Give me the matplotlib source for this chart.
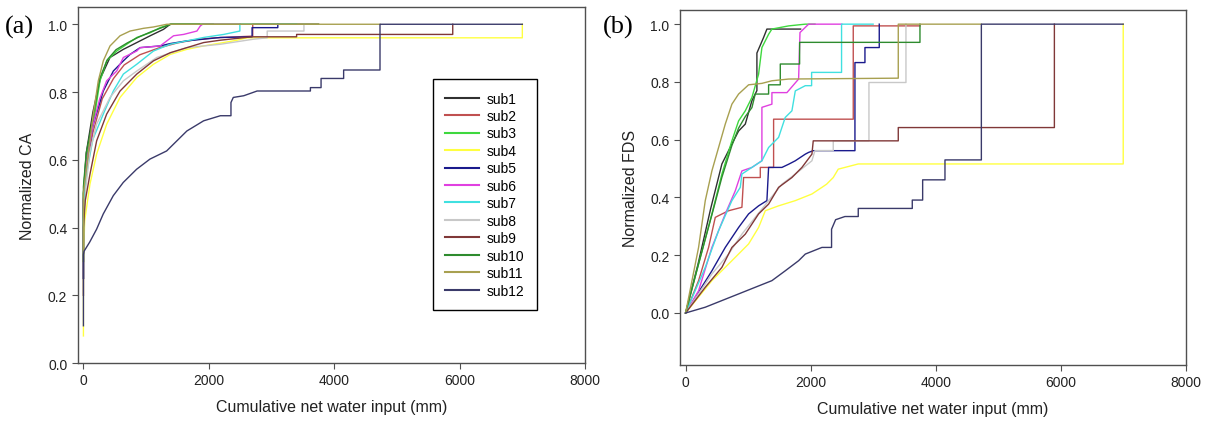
import matplotlib
matplotlib.use("Agg")
import matplotlib.pyplot as plt

plt.rcParams['font.family'] = ['Liberation Sans', 'DejaVu Sans']

names = ['sub1', 'sub2', 'sub3', 'sub4', 'sub5', 'sub6',
         'sub7', 'sub8', 'sub9', 'sub10', 'sub11', 'sub12']
colors = ['#303030', '#c05050', '#3ed83e', '#ffff40', '#1a1a8c', '#e040e0',
          '#40e0e0', '#c8c8c8', '#803838', '#2e8b2e', '#a8a050', '#3a3a6a']

# (a) Normalized CA vs cumulative net water input (mm)
ca_sub1_x = [0, 0, 45, 150, 270, 424, 637, 851, 1064, 1277, 1384, 1850]
ca_sub1_y = [0.25, 0.50, 0.62, 0.74, 0.84, 0.902, 0.926, 0.946, 0.966, 0.985, 1.0, 1.0]
ca_sub2_x = [0, 0, 40, 150, 300, 480, 650, 900, 1200, 1500, 1800, 2100, 2700, 2700, 3750]
ca_sub2_y = [0.25, 0.45, 0.56, 0.68, 0.78, 0.84, 0.88, 0.91, 0.93, 0.945, 0.955, 0.96, 0.965, 1.0, 1.0]
ca_sub3_x = [0, 0, 40, 157, 264, 371, 531, 691, 851, 1064, 1224, 1384, 2070]
ca_sub3_y = [0.30, 0.50, 0.60, 0.705, 0.833, 0.892, 0.921, 0.941, 0.961, 0.975, 0.99, 1.0, 1.0]
ca_sub4_x = [0, 0, 20, 104, 211, 371, 584, 851, 1117, 1384, 1650, 1917, 2237, 2450, 2610, 7000, 7000]
ca_sub4_y = [0.08, 0.30, 0.42, 0.528, 0.617, 0.705, 0.784, 0.843, 0.882, 0.911, 0.926, 0.936,
             0.946, 0.953, 0.96, 0.96, 1.0]
ca_sub5_x = [0, 0, 40, 150, 317, 477, 637, 744, 904, 1224, 1384, 1650, 1917, 2184, 2690, 2690,
             3100, 3100]
ca_sub5_y = [0.25, 0.48, 0.58, 0.70, 0.803, 0.862, 0.892, 0.911, 0.931, 0.936, 0.943, 0.951,
             0.956, 0.961, 0.963, 0.99, 0.99, 1.0]
ca_sub6_x = [0, 0, 40, 150, 260, 370, 531, 637, 851, 904, 1224, 1437, 1597, 1810, 1864, 1900, 2500]
ca_sub6_y = [0.25, 0.48, 0.58, 0.70, 0.78, 0.833, 0.862, 0.902, 0.921, 0.931, 0.936, 0.966,
             0.97, 0.98, 0.995, 1.0, 1.0]
ca_sub7_x = [0, 0, 40, 150, 317, 477, 637, 851, 1117, 1384, 1650, 1917, 2237, 2495, 2495, 3400]
ca_sub7_y = [0.25, 0.45, 0.55, 0.66, 0.735, 0.803, 0.853, 0.882, 0.921, 0.941, 0.951, 0.961,
             0.97, 0.98, 1.0, 1.0]
ca_sub8_x = [0, 0, 40, 100, 210, 424, 637, 851, 1170, 1650, 2184, 2717, 2931, 2931, 3517, 3517, 3530]
ca_sub8_y = [0.25, 0.42, 0.52, 0.62, 0.705, 0.784, 0.833, 0.862, 0.902, 0.931, 0.941, 0.956,
             0.96, 0.98, 0.98, 1.0, 1.0]
ca_sub9_x = [0, 0, 30, 104, 211, 371, 584, 851, 1117, 1384, 1650, 1917, 2184, 2690, 3400, 3400,
             5890, 5890]
ca_sub9_y = [0.20, 0.40, 0.48, 0.557, 0.656, 0.735, 0.803, 0.853, 0.892, 0.916, 0.931, 0.946,
             0.953, 0.963, 0.963, 0.97, 0.97, 1.0]
ca_sub10_x = [0, 0, 45, 150, 260, 380, 520, 700, 880, 1080, 1250, 1400, 3750]
ca_sub10_y = [0.30, 0.52, 0.62, 0.72, 0.84, 0.895, 0.925, 0.945, 0.962, 0.978, 0.99, 1.0, 1.0]
ca_sub11_x = [0, 0, 77, 157, 237, 317, 424, 584, 744, 957, 1117, 1330, 4730]
ca_sub11_y = [0.30, 0.50, 0.617, 0.735, 0.833, 0.892, 0.936, 0.966, 0.98, 0.988, 0.992, 1.0, 1.0]
ca_sub12_x = [0, 0, 0, 10, 100, 210, 316, 476, 635, 848, 1061, 1327, 1650, 1917, 2184, 2353, 2353,
              2390, 2557, 2770, 3620, 3620, 3790, 3790, 4150, 4150, 4730, 4730, 7000]
ca_sub12_y = [0.11, 0.18, 0.32, 0.33, 0.357, 0.395, 0.44, 0.494, 0.533, 0.572, 0.602, 0.626,
              0.685, 0.715, 0.73, 0.73, 0.769, 0.784, 0.789, 0.803, 0.803, 0.813, 0.813, 0.84,
              0.84, 0.865, 0.865, 1.0, 1.0]

# (b) Normalized FDS vs cumulative net water input (mm)
fds_sub1_x = [0, 200, 400, 581, 741, 848, 955, 1061, 1141, 1141, 1248, 1301, 1840]
fds_sub1_y = [0, 0.17, 0.36, 0.516, 0.585, 0.63, 0.654, 0.735, 0.77, 0.90, 0.954, 0.983, 0.983]
fds_sub2_x = [0, 208, 368, 475, 528, 688, 901, 928, 1195, 1195, 1408, 1408, 2682, 2682, 3749]
fds_sub2_y = [0, 0.112, 0.227, 0.331, 0.337, 0.354, 0.366, 0.469, 0.469, 0.504, 0.504, 0.671,
              0.671, 0.994, 0.994]
fds_sub3_x = [0, 208, 421, 581, 741, 848, 955, 1061, 1168, 1221, 1328, 1381, 1648, 1915, 2070]
fds_sub3_y = [0, 0.17, 0.343, 0.481, 0.596, 0.665, 0.70, 0.746, 0.827, 0.919, 0.965, 0.983,
              0.994, 1.0, 1.0]
fds_sub4_x = [0, 421, 741, 1008, 1168, 1275, 1488, 1755, 2021, 2181, 2256, 2362, 2442, 2762, 7000, 7000]
fds_sub4_y = [0, 0.112, 0.181, 0.239, 0.296, 0.354, 0.371, 0.389, 0.412, 0.435, 0.446, 0.469,
              0.498, 0.516, 0.516, 1.0]
fds_sub5_x = [0, 421, 635, 848, 1008, 1168, 1301, 1328, 1541, 1648, 1755, 1915, 1968, 2042, 2709,
              2709, 2869, 2869, 3098, 3098]
fds_sub5_y = [0, 0.146, 0.227, 0.296, 0.343, 0.371, 0.389, 0.504, 0.504, 0.515, 0.527, 0.55,
              0.556, 0.562, 0.562, 0.867, 0.867, 0.919, 0.919, 1.0]
fds_sub6_x = [0, 208, 421, 635, 795, 901, 1061, 1221, 1221, 1381, 1381, 1621, 1808, 1830, 1968, 2500]
fds_sub6_y = [0, 0.077, 0.227, 0.343, 0.423, 0.492, 0.504, 0.527, 0.712, 0.723, 0.763, 0.763,
              0.81, 0.971, 1.0, 1.0]
fds_sub7_x = [0, 315, 528, 741, 875, 901, 1061, 1221, 1328, 1488, 1594, 1701, 1755, 1915, 2016,
              2016, 2495, 2495, 3000]
fds_sub7_y = [0, 0.158, 0.285, 0.389, 0.435, 0.481, 0.504, 0.527, 0.573, 0.608, 0.677, 0.70,
              0.769, 0.787, 0.787, 0.833, 0.833, 1.0, 1.0]
fds_sub8_x = [0, 421, 688, 901, 1114, 1328, 1541, 1755, 2021, 2069, 2362, 2362, 2933, 2933, 3525, 3525]
fds_sub8_y = [0, 0.135, 0.204, 0.273, 0.331, 0.389, 0.446, 0.481, 0.527, 0.562, 0.562, 0.596,
              0.596, 0.798, 0.798, 1.0]
fds_sub9_x = [0, 315, 581, 741, 955, 1168, 1328, 1488, 1701, 1861, 2021, 2042, 3402, 3402, 5899, 5899]
fds_sub9_y = [0, 0.089, 0.158, 0.227, 0.273, 0.343, 0.377, 0.435, 0.469, 0.504, 0.55, 0.596,
              0.596, 0.642, 0.642, 1.0]
fds_sub10_x = [0, 208, 421, 581, 741, 848, 955, 1061, 1114, 1328, 1328, 1515, 1515, 1824, 1824,
               3749, 3749]
fds_sub10_y = [0, 0.17, 0.34, 0.47, 0.58, 0.64, 0.68, 0.711, 0.758, 0.758, 0.79, 0.79, 0.862,
               0.862, 0.937, 0.937, 1.0]
fds_sub11_x = [0, 208, 315, 421, 528, 635, 741, 848, 1008, 1221, 1381, 1648, 3402, 3402, 4730]
fds_sub11_y = [0, 0.227, 0.389, 0.492, 0.573, 0.654, 0.723, 0.758, 0.79, 0.795, 0.804, 0.81,
               0.813, 1.0, 1.0]
fds_sub12_x = [0, 315, 581, 848, 1114, 1381, 1594, 1808, 1915, 2181, 2335, 2335, 2400, 2549, 2762,
               2762, 3626, 3626, 3792, 3792, 4149, 4149, 4731, 4731, 7000]
fds_sub12_y = [0, 0.02, 0.043, 0.066, 0.089, 0.112, 0.146, 0.181, 0.204, 0.227, 0.227, 0.29,
               0.323, 0.334, 0.334, 0.362, 0.362, 0.391, 0.391, 0.461, 0.461, 0.53, 0.53, 1.0, 1.0]

ca_x = [ca_sub1_x, ca_sub2_x, ca_sub3_x, ca_sub4_x, ca_sub5_x, ca_sub6_x,
        ca_sub7_x, ca_sub8_x, ca_sub9_x, ca_sub10_x, ca_sub11_x, ca_sub12_x]
ca_y = [ca_sub1_y, ca_sub2_y, ca_sub3_y, ca_sub4_y, ca_sub5_y, ca_sub6_y,
        ca_sub7_y, ca_sub8_y, ca_sub9_y, ca_sub10_y, ca_sub11_y, ca_sub12_y]
fds_x = [fds_sub1_x, fds_sub2_x, fds_sub3_x, fds_sub4_x, fds_sub5_x, fds_sub6_x,
         fds_sub7_x, fds_sub8_x, fds_sub9_x, fds_sub10_x, fds_sub11_x, fds_sub12_x]
fds_y = [fds_sub1_y, fds_sub2_y, fds_sub3_y, fds_sub4_y, fds_sub5_y, fds_sub6_y,
         fds_sub7_y, fds_sub8_y, fds_sub9_y, fds_sub10_y, fds_sub11_y, fds_sub12_y]

xticks = [0, 2000, 4000, 6000, 8000]
yticks = [0.0, 0.2, 0.4, 0.6, 0.8, 1.0]


def style(ax, ylabel):
    for s in ['top', 'right', 'left', 'bottom']:
        ax.spines[s].set_color('#505050')
        ax.spines[s].set_linewidth(1.0)
    ax.tick_params(direction='out', length=4, width=0.8, colors='#505050',
                   labelcolor='#222222', labelsize=10, top=False, right=False)
    ax.set_xticks(xticks)
    ax.set_xticklabels([str(t) for t in xticks])
    ax.set_yticks(yticks)
    ax.set_yticklabels(['%.1f' % t for t in yticks])
    ax.set_xlim(-90, 8000)
    ax.set_xlabel('Cumulative net water input (mm)', fontsize=11.5, color='#222222', labelpad=8)
    ax.set_ylabel(ylabel, fontsize=11.5, color='#222222', labelpad=9)


fig = plt.figure(figsize=(12.06, 4.27), dpi=100)
ax1 = fig.add_axes([0.0645, 0.1475, 0.4206, 0.833])
ax2 = fig.add_axes([0.5638, 0.1429, 0.4194, 0.832])

for i in range(len(names)):
    ax1.plot(ca_x[i], ca_y[i], color=colors[i], lw=1.0, label=names[i])
    ax2.plot(fds_x[i], fds_y[i], color=colors[i], lw=1.0, label=names[i])

style(ax1, 'Normalized CA')
ax1.set_ylim(0, 1.05)
style(ax2, 'Normalized FDS')
ax2.set_ylim(-0.18, 1.05)

leg = ax1.legend(loc='upper left', bbox_to_anchor=(0.3588, 0.8126),
                 bbox_transform=fig.transFigure, fontsize=10, frameon=True,
                 fancybox=False, framealpha=1, edgecolor='black',
                 handlelength=2.4, handletextpad=0.6, labelspacing=0.25,
                 borderpad=0.9, borderaxespad=0)
leg.get_frame().set_linewidth(1.0)
for line in leg.get_lines():
    line.set_linewidth(1.5)

fig.text(0.004, 0.935, '(a)', fontsize=19, family=['Liberation Serif', 'DejaVu Serif'],
         va='center', ha='left')
fig.text(0.500, 0.935, '(b)', fontsize=19, family=['Liberation Serif', 'DejaVu Serif'],
         va='center', ha='left')

fig.savefig('out.png', dpi=100)
